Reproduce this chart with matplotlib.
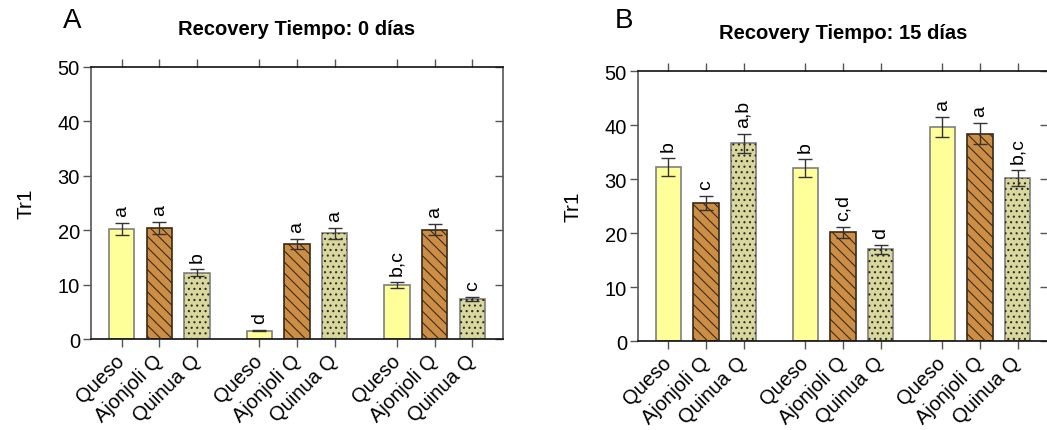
import matplotlib.pyplot as plt
import numpy as np

plt.rcParams["font.family"] = ["Liberation Sans", "DejaVu Sans"]
plt.rcParams["hatch.linewidth"] = 0.8

products = ["Queso", "Ajonjoli Q", "Quinua Q"]
n_groups = 3

# Tr1 means, SEM and significance letters, one list per recovery time
titles = ["Recovery Tiempo: 0 días", "Recovery Tiempo: 15 días"]
panel_tags = ["A", "B"]
tr1_day0 = [20.2, 20.4, 12.2, 1.5, 17.4, 19.4, 9.9, 20.1, 7.3]
sem_day0 = [1.05, 1.1, 0.6, 0.1, 0.9, 1.0, 0.5, 1.0, 0.35]
let_day0 = ["a", "a", "b", "d", "a", "a", "b,c", "a", "c"]
tr1_day15 = [32.2, 25.5, 36.6, 32.1, 20.1, 17.0, 39.6, 38.4, 30.2]
sem_day15 = [1.6, 1.3, 1.8, 1.65, 1.0, 0.8, 1.9, 1.9, 1.5]
let_day15 = ["b", "c", "a,b", "b", "c,d", "d", "a", "a", "b,c"]

fills = ["#ffff99", "#cc8e45", "#d9d79b"]
edges = ["#7f7f7f", "#3a2a18", "#7f7f7f"]
hatch_colors = [None, "#3b2a14", "#2b2b2b"]
hatches = [None, "\\\\\\", "..."]

group_step = 3.65
width = 0.67
x = np.array([g * group_step + i for g in range(n_groups) for i in range(3)])

fig = plt.figure(figsize=(10.47, 4.31), dpi=100)
W, H = 1047, 431
boxes = [(91, 68, 503, 340), (638, 72, 1048, 342)]
tag_pos = [(-0.068, 1.147), (-0.056, 1.163)]


def draw_panel(ax, vals, sems, letters, title, tag, tpos):
    for i in range(3):
        idx = slice(i, None, 3)
        xs, vs = x[idx], np.array(vals[idx])
        ax.bar(xs, vs, width, color=fills[i], edgecolor=edges[i], linewidth=1.2, zorder=2)
        if hatches[i]:
            ax.bar(xs, vs, width, color="none", edgecolor=hatch_colors[i], linewidth=0,
                   hatch=hatches[i], zorder=3)
    ax.errorbar(x, vals, yerr=sems, fmt="none", ecolor="#333333", elinewidth=1,
                capsize=5, capthick=1, zorder=4)
    for xi, v, s, lab in zip(x, vals, sems, letters):
        ax.text(xi, v + s + 1.3, lab, rotation=90, ha="center", va="bottom", fontsize=14)

    ax.set_xlim(-0.81, x[-1] + 0.81)
    ax.set_ylim(0, 50)
    ax.set_yticks(range(0, 51, 10))
    ax.set_xticks(x)
    ax.set_xticklabels(products * n_groups, rotation=45, ha="right", va="center",
                       rotation_mode="anchor", fontsize=14.5)
    ax.tick_params(axis="y", labelsize=14.5, length=6, width=1, color="#555555", pad=2)
    ax.tick_params(axis="x", length=6, width=1, color="#555555", top=True, direction="out",
                   pad=7)
    ax.tick_params(axis="y", which="both", right=True)
    for side in ["left", "bottom", "top", "right"]:
        ax.spines[side].set_linewidth(1.2)
    ax.spines["left"].set_color("#555555")
    ax.spines["right"].set_color("#555555")
    ax.spines["top"].set_color("#111111")
    ax.spines["bottom"].set_color("#111111")
    for t in ax.yaxis.get_major_ticks():
        t.tick2line.set_marker(0)  # right ticks point inward
    ax.set_ylabel("Tr1", fontsize=15, labelpad=16)
    ax.set_title(title, fontsize=14.5, fontweight="bold", pad=24)
    ax.text(tpos[0], tpos[1], tag, transform=ax.transAxes, fontsize=20,
            va="baseline", ha="left")


for (l, t, r, b), vals, sems, lets, title, tag, tpos in zip(
        boxes, [tr1_day0, tr1_day15], [sem_day0, sem_day15],
        [let_day0, let_day15], titles, panel_tags, tag_pos):
    ax = fig.add_axes([l / W, 1 - b / H, (r - l) / W, (b - t) / H])
    draw_panel(ax, vals, sems, lets, title, tag, tpos)

fig.savefig("out.png", dpi=100)
